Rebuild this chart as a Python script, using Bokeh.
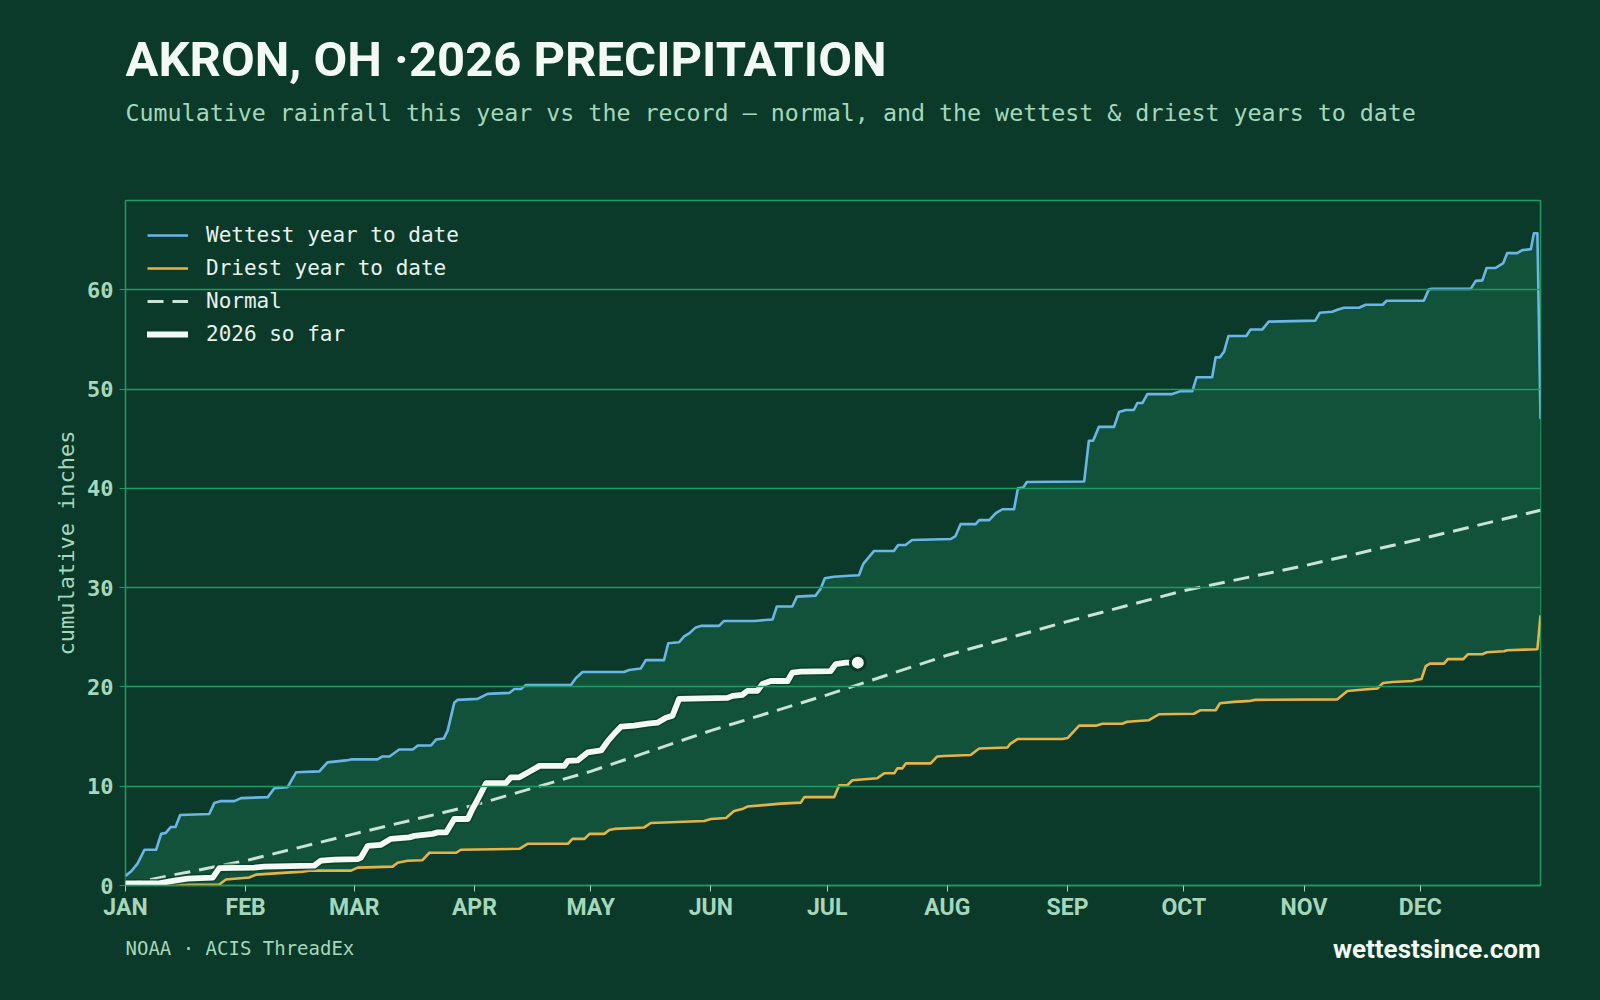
from bokeh.plotting import figure
from bokeh.layouts import column
from bokeh.models import Range1d, FixedTicker, Label, Legend, LegendItem
from bokeh.embed import file_html
from bokeh.resources import INLINE

# ---------------- data (day of year, cumulative inches) ----------------
MONTH_DAYS = [0, 31, 59, 90, 120, 151, 181, 212, 243, 273, 304, 334]
MONTH_LABELS = ["JAN", "FEB", "MAR", "APR", "MAY", "JUN", "JUL", "AUG", "SEP", "OCT", "NOV", "DEC"]
Y_TICKS = [0, 10, 20, 30, 40, 50, 60]

WETTEST = [(0, 0.97), (1.4, 1.4), (3.1, 2.2), (4.9, 3.6), (7.9, 3.6), (9.2, 5.2), (10.4, 5.3), (11.7, 5.9),
           (12.9, 5.9), (14.1, 7.1), (21.6, 7.2), (22.9, 8.3), (24.6, 8.5), (28.1, 8.5), (29.8, 8.8), (36.7, 8.9),
           (38.4, 9.8), (41.8, 9.9), (44.0, 11.4), (50.0, 11.5), (52.1, 12.4), (56.9, 12.6), (58.2, 12.7),
           (65.0, 12.7), (66.3, 13.0), (68.1, 13.0), (70.6, 13.7), (74.1, 13.7), (75.4, 14.1), (78.8, 14.1),
           (80.1, 14.7), (82.1, 14.8), (83.1, 15.6), (84.8, 18.4), (85.7, 18.7), (90.8, 18.8), (93.4, 19.3),
           (99.0, 19.4), (100.3, 19.8), (102.0, 19.8), (103.3, 20.2), (114.9, 20.2), (116.2, 20.9), (117.9, 21.5),
           (128.6, 21.5), (129.9, 21.7), (132.9, 21.85), (134.2, 22.7), (138.9, 22.7), (140.0, 24.4),
           (142.8, 24.5), (144.1, 25.1), (145.4, 25.4), (147.1, 26.0), (148.4, 26.15), (153.1, 26.15),
           (154.4, 26.65), (162.2, 26.65), (166.9, 26.8), (168.0, 28.1), (172.0, 28.1), (173.2, 29.1),
           (178.0, 29.2), (179.3, 29.9), (180.4, 30.95), (182.7, 31.1), (186.6, 31.2), (189.2, 31.25),
           (190.3, 32.4), (193.1, 33.7), (198.2, 33.7), (199.3, 34.3), (201.2, 34.3), (202.9, 34.8),
           (212.9, 34.9), (214.1, 35.2), (215.4, 36.4), (219.3, 36.4), (220.2, 36.8), (222.8, 36.8),
           (224.5, 37.5), (226.2, 37.9), (229.2, 37.9), (230.2, 40.0), (231.6, 40.1), (232.5, 40.65),
           (247.3, 40.7), (248.5, 44.8), (249.6, 44.8), (251.1, 46.2), (255.0, 46.2), (256.3, 47.7),
           (258.0, 47.9), (260.1, 47.9), (261.0, 48.6), (262.3, 48.6), (263.6, 49.5), (270.0, 49.5),
           (272.2, 49.8), (275.2, 49.8), (276.3, 51.2), (280.3, 51.2), (281.2, 53.2), (282.3, 53.2),
           (283.4, 53.8), (284.5, 55.35), (289.1, 55.35), (290.2, 56.0), (293.2, 56.0), (294.9, 56.8),
           (306.9, 56.9), (308.1, 57.7), (311.3, 57.8), (312.6, 58.0), (314.3, 58.2), (318.2, 58.2),
           (319.9, 58.5), (324.3, 58.5), (325.3, 58.9), (334.9, 58.9), (336.2, 60.05), (337.1, 60.1),
           (347.0, 60.1), (348.3, 60.9), (350.0, 60.95), (351.1, 62.2), (353.4, 62.2), (355.4, 62.7),
           (356.4, 63.7), (359.0, 63.7), (360.3, 64.0), (362.5, 64.1), (363.3, 65.7), (364.2, 65.7),
           (365.0, 47.0)]

DRIEST = [(0, 0.0), (24.2, 0.1), (25.9, 0.6), (31.9, 0.8), (33.7, 1.1), (45.7, 1.4), (47.4, 1.5), (58.2, 1.5),
          (59.9, 1.8), (68.9, 1.9), (70.2, 2.3), (72.8, 2.5), (76.6, 2.55), (78.4, 3.3), (85.3, 3.3),
          (86.5, 3.6), (101.6, 3.7), (103.7, 4.2), (114.1, 4.2), (115.3, 4.7), (118.4, 4.7), (119.7, 5.2),
          (123.5, 5.2), (124.8, 5.6), (126.1, 5.7), (133.8, 5.85), (135.5, 6.3), (149.3, 6.5), (151.0, 6.7),
          (154.9, 6.8), (157.0, 7.5), (159.1, 7.7), (160.4, 7.95), (164.8, 8.1), (169.0, 8.25), (174.2, 8.35),
          (175.1, 8.9), (182.8, 8.9), (184.1, 10.1), (186.2, 10.1), (187.5, 10.6), (193.9, 10.8),
          (195.7, 11.3), (198.3, 11.3), (199.1, 11.8), (200.4, 11.8), (201.3, 12.3), (207.7, 12.3),
          (209.4, 13.0), (211.1, 13.05), (218.0, 13.15), (220.2, 13.8), (227.5, 13.9), (228.3, 14.3),
          (230.1, 14.75), (241.7, 14.75), (243.0, 14.85), (246.0, 16.1), (250.3, 16.1), (252.0, 16.3),
          (257.1, 16.3), (258.4, 16.5), (264.0, 16.65), (266.6, 17.25), (275.6, 17.3), (277.2, 17.65),
          (281.2, 17.65), (282.3, 18.35), (285.9, 18.5), (290.2, 18.6), (291.5, 18.7), (312.6, 18.75),
          (315.2, 19.6), (319.5, 19.75), (322.9, 19.85), (324.4, 20.4), (326.8, 20.5), (332.0, 20.6),
          (332.8, 20.7), (334.3, 20.8), (335.4, 22.1), (336.5, 22.35), (340.1, 22.35), (341.1, 22.8),
          (345.1, 22.8), (346.3, 23.3), (350.0, 23.3), (351.2, 23.5), (355.6, 23.6), (356.4, 23.7),
          (364.2, 23.8), (365.0, 27.2)]

NORMAL = [(0, 0.1), (31, 2.5), (59, 5.2), (90, 8.1), (120, 11.5), (151, 15.6), (181, 19.2), (212, 23.2),
          (243, 26.6), (273, 29.7), (304, 32.2), (334, 34.9), (365, 37.8)]

SO_FAR = [(0, 0.2), (8.3, 0.2), (12.6, 0.5), (16.0, 0.7), (22.5, 0.8), (24.2, 1.75), (33.2, 1.8), (35.8, 1.9),
          (48.7, 2.0), (50.4, 2.5), (53.9, 2.6), (59.9, 2.65), (60.7, 2.8), (62.5, 4.0), (65.9, 4.1),
          (68.5, 4.7), (73.2, 4.85), (74.5, 5.0), (79.2, 5.2), (80.5, 5.35), (82.7, 5.35), (84.8, 6.7),
          (88.3, 6.7), (89.5, 7.7), (91.3, 9.0), (93.0, 10.3), (98.1, 10.3), (99.4, 10.9), (101.6, 10.9),
          (104.6, 11.55), (106.8, 12.05), (113.2, 12.05), (114.1, 12.55), (116.6, 12.6), (119.2, 13.4),
          (122.7, 13.6), (124.5, 14.6), (126.1, 15.3), (127.8, 16.0), (131.2, 16.1), (134.7, 16.3),
          (137.2, 16.4), (139.4, 16.9), (141.1, 17.1), (142.8, 18.8), (155.3, 18.9), (156.6, 19.1),
          (159.1, 19.2), (160.4, 19.6), (163.0, 19.6), (164.3, 20.3), (166.5, 20.6), (170.8, 20.6),
          (172.0, 21.45), (174.2, 21.55), (181.9, 21.6), (183.2, 22.3), (185.8, 22.45), (188.9, 22.45)]

TITLE = "AKRON, OH ·2026 PRECIPITATION"
SUBTITLE = "Cumulative rainfall this year vs the record — normal, and the wettest & driest years to date"
SOURCE = "NOAA · ACIS ThreadEx"
SITE = "wettestsince.com"

# ---------------- styling ----------------
BG = "#0b3a2a"
BAND = "#12523a"
GRID = "#1f9a63"
BLUE = "#6cb6e6"
GOLD = "#e6b445"
NORM = "#c9e3d4"
WHITE = "#f3faf5"
MUTED = "#a6d7bb"
SANS = "Roboto"
MONO = "DejaVu Sans Mono"

W = 1600
LEFT, RIGHT = 125, 60
FRAME_W = W - LEFT - RIGHT
HEAD_H = 198
MAIN_H = 732
FOOT_H = 1000 - HEAD_H - MAIN_H


def text_strip(height):
    f = figure(width=W, height=height, output_backend="svg", toolbar_location=None,
               title_location=None,
               x_range=Range1d(0, FRAME_W), y_range=Range1d(0, height),
               min_border_left=LEFT, min_border_right=RIGHT, min_border_top=0, min_border_bottom=0,
               x_axis_location=None, y_axis_location=None)
    f.background_fill_color = None
    f.border_fill_color = BG
    f.outline_line_color = None
    f.grid.visible = False
    return f


wx, wy = [d for d, _ in WETTEST], [v for _, v in WETTEST]
dx, dy = [d for d, _ in DRIEST], [v for _, v in DRIEST]
nx, ny = [d for d, _ in NORMAL], [v for _, v in NORMAL]
sx, sy = [d for d, _ in SO_FAR], [v for _, v in SO_FAR]

# ---------------- header ----------------
head = text_strip(HEAD_H)
head.add_layout(Label(x=0, y=139, text=TITLE, text_font=SANS, text_font_style="bold",
                      text_font_size="49px", text_color=WHITE, text_baseline="alphabetic"))
head.add_layout(Label(x=0, y=86, text=SUBTITLE, text_font=MONO, text_font_size="23.3px",
                      text_color=MUTED, text_baseline="alphabetic"))

# ---------------- main chart ----------------
p = figure(width=W, height=MAIN_H, output_backend="svg", toolbar_location=None,
           x_range=Range1d(0, 365), y_range=Range1d(0, 69),
           min_border_left=LEFT, min_border_right=RIGHT, min_border_top=2, min_border_bottom=45)
p.background_fill_color = BG
p.border_fill_color = BG
p.outline_line_color = GRID
p.outline_line_width = 1.5

p.patch(wx + dx[::-1], wy + dy[::-1], fill_color=BAND, line_color=None, level="underlay")

p.xgrid.visible = False
p.ygrid.ticker = FixedTicker(ticks=Y_TICKS)
p.ygrid.grid_line_color = GRID
p.ygrid.grid_line_width = 1.3
p.ygrid.level = "glyph"

r_wet = p.line(wx, wy, line_color=BLUE, line_width=2.6, line_join="round")
r_dry = p.line(dx, dy, line_color=GOLD, line_width=2.6, line_join="round")
r_norm = p.line(nx, ny, line_color=NORM, line_width=3, line_dash="16 9")
p.line(sx, sy, line_color=BG, line_width=9, line_alpha=0.7, line_join="round", line_cap="round")
r_now = p.line(sx, sy, line_color=WHITE, line_width=5.8, line_join="round", line_cap="round")
p.scatter([sx[-1]], [sy[-1]], size=15, fill_color=WHITE, line_color=BG, line_width=3)

p.xaxis.ticker = FixedTicker(ticks=MONTH_DAYS)
p.xaxis.major_label_overrides = {d: m for d, m in zip(MONTH_DAYS, MONTH_LABELS)}
p.xaxis.minor_tick_line_color = None
p.xaxis.axis_line_color = GRID
p.xaxis.axis_line_width = 1.5
p.xaxis.major_tick_line_color = MUTED
p.xaxis.major_tick_in = 0
p.xaxis.major_tick_out = 6
p.xaxis.major_label_standoff = 2
p.xaxis.major_label_text_font = SANS
p.xaxis.major_label_text_font_style = "bold"
p.xaxis.major_label_text_font_size = "23px"
p.xaxis.major_label_text_color = MUTED

p.yaxis.ticker = FixedTicker(ticks=Y_TICKS)
p.yaxis.minor_tick_line_color = None
p.yaxis.axis_line_color = None
p.yaxis.major_tick_line_color = GRID
p.yaxis.major_tick_in = 0
p.yaxis.major_tick_out = 6
p.yaxis.major_label_standoff = 6
p.yaxis.major_label_text_font = MONO
p.yaxis.major_label_text_font_style = "bold"
p.yaxis.major_label_text_font_size = "22px"
p.yaxis.major_label_text_color = MUTED
p.yaxis.axis_label = "cumulative inches"
p.yaxis.axis_label_text_font = MONO
p.yaxis.axis_label_text_font_style = "normal"
p.yaxis.axis_label_text_font_size = "22px"
p.yaxis.axis_label_text_color = MUTED
p.yaxis.axis_label_standoff = 5

legend = Legend(items=[LegendItem(label="Wettest year to date", renderers=[r_wet]),
                       LegendItem(label="Driest year to date", renderers=[r_dry]),
                       LegendItem(label="Normal", renderers=[r_norm]),
                       LegendItem(label="2026 so far", renderers=[r_now])],
                location="top_left", background_fill_alpha=0, border_line_alpha=0,
                label_text_font=MONO, label_text_font_size="21px", label_text_color="#e8f3ec",
                glyph_width=41, glyph_height=26, label_height=26, spacing=7, label_standoff=18,
                margin=12, padding=10)
p.add_layout(legend)

# ---------------- footer ----------------
foot = text_strip(FOOT_H)
foot.add_layout(Label(x=0, y=53, text=SOURCE, text_font=MONO, text_font_size="19px",
                      text_color=MUTED, text_baseline="alphabetic"))
foot.add_layout(Label(x=FRAME_W, y=52, text=SITE, text_font=SANS, text_font_style="bold",
                      text_font_size="26px", text_color=WHITE, text_align="right",
                      text_baseline="alphabetic"))

layout = column(head, p, foot, spacing=0, styles={"background-color": BG})
open("out.html", "w").write(file_html(layout, INLINE))
